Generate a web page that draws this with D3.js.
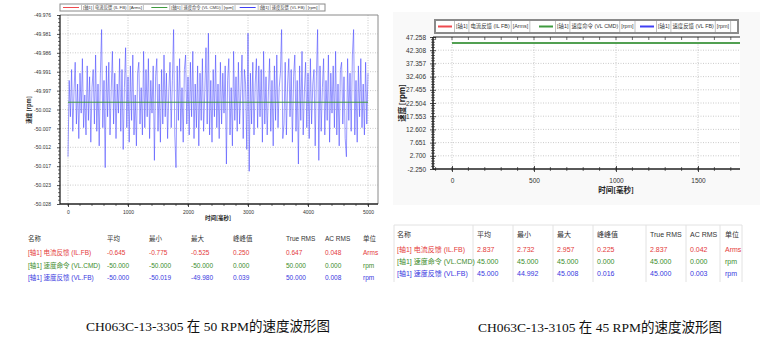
<!DOCTYPE html>
<html>
<head>
<meta charset="utf-8">
<script src="https://cdn.jsdelivr.net/npm/d3@7"></script>
<style>
  body { margin: 0; background: #fff; }
  svg { display: block; font-family: "Liberation Sans", Arial, "Noto Sans CJK SC", sans-serif; }
</style>
</head>
<body>
<svg id="chart" width="770" height="351"></svg>
<script>
// ---------- data ----------
const axisPrefix = "[轴1]";
const seriesNames = ["电流反馈 (IL FB)", "速度命令 (VL CMD)", "速度反馈 (VL FB)"];
const seriesUnits = ["Arms", "rpm", "rpm"];
const seriesColors = ["#ee4a4f", "#3f9a3f", "#4040f4"];

const tableHeaders = ["名称", "平均", "最小", "最大", "峰峰值", "True RMS", "AC RMS", "单位"];
const tableRowNames = ["[轴1] 电流反馈 (IL.FB)", "[轴1] 速度命令 (VL.CMD)", "[轴1] 速度反馈 (VL.FB)"];
const tableColors = ["#e43a3a", "#3c8c2c", "#3838e0"];

// left panel: 50 rpm
const leftYLabels = ["-50.028", "-50.023", "-50.017", "-50.012", "-50.007", "-50.002",
                     "-49.997", "-49.991", "-49.986", "-49.981", "-49.976"];
const leftYRange = [-50.028, -49.976];
const leftXTicks = [0, 1000, 2000, 3000, 4000, 5000];
const leftCmdRpm = -50.000;
const leftCmdTimes = [0, 5000];
const leftFbStepMs = 20;
// VL.FB deviation from the -50 rpm command, in 0.001 rpm
const leftFbDev = [
  -15, 6, -4, 9, -8, 3, 11, -6, 5, -10,
  8, -3, 12, -7, 2, -9, 10, -5, 7, -11,
  4, 9, -6, 13, -8, 5, -12, 8, 20, -7,
  6, -18, 10, -4, 11, -9, 3, 14, -6, 8,
  -10, 5, -3, 12, -8, 9, -13, 4, 15, -7,
  7, -11, 10, -5, 13, -9, 2, -12, 8, 11,
  -6, 4, -9, 14, -7, 9, -4, 12, -10, 6,
  -3, 10, -16, 7, 12, -8, 5, -11, 9, -6,
  13, -4, 8, -10, 3, 11, -7, 6, 20, -9,
  -18, 10, -5, 12, -8, 4, -11, 9, 13, -6,
  7, -9, 11, -4, 14, -10, 5, -7, 10, -12,
  8, -5, 12, -8, 3, 15, -6, 19, -9, 6,
  -11, 9, -4, 13, -7, 5, -10, 11, -6, 8,
  -3, 10, -17, 6, 12, -9, 4, -12, 14, -5,
  7, -8, 11, -6, 3, 13, -10, 9, 5, -13,
  19, -19, 8, -6, 11, -9, 5, 12, -7, 10,
  -4, 9, -11, 14, -6, 7, -9, 3, 12, -8,
  6, -12, 10, -5, 13, -7, 4, 8, 20, -10,
  -6, 11, -9, 5, 12, -4, 9, -11, 7, 13,
  -8, 6, -17, 10, -5, 14, -9, 3, 11, -7,
  8, -10, 12, -6, 5, 9, -12, 7, 20, -16,
  10, -8, 4, 12, -9, 6, -5, 13, -11, 8,
  -3, 10, -7, 14, -9, 5, -12, 9, 11, -6,
  7, -10, -15, 12, -5, 8, -8, 13, 20, -9,
  6, -11, 10, -4, 12, -7, 5, -9, 11, -6, 8
];
const leftStats = [
  ["-0.645", "-0.775", "-0.525", "0.250", "0.647", "0.048", "Arms"],
  ["-50.000", "-50.000", "-50.000", "0.000", "50.000", "0.000", "rpm"],
  ["-50.000", "-50.019", "-49.980", "0.039", "50.000", "0.008", "rpm"]
];
const leftCaption = "CH063C-13-3305 在 50 RPM的速度波形图";

// right panel: 45 rpm
const rightYLabels = ["-2.250", "2.700", "7.651", "12.602", "17.553", "22.504",
                      "27.455", "32.406", "37.357", "42.308", "47.258"];
const rightYRange = [-2.250, 47.258];
const rightXTicks = [0, 500, 1000, 1500];
const rightTimes = [0, 1760];
const rightFbRpm = [45.000, 45.000];
const rightCmdRpm = [45.000, 45.000];
const rightStats = [
  ["2.837", "2.732", "2.957", "0.225", "2.837", "0.042", "Arms"],
  ["45.000", "45.000", "45.000", "0.000", "45.000", "0.000", "rpm"],
  ["45.000", "44.992", "45.008", "0.016", "45.000", "0.003", "rpm"]
];
const rightCaption = "CH063C-13-3105 在 45 RPM的速度波形图";

// ---------- drawing ----------
const svg = d3.select("#chart");

function drawPanel(p) {
  const g = svg.append("g");
  const x = d3.scaleLinear().domain(p.xDomain).range(p.xRange);
  const y = d3.scaleLinear().domain(p.yRange).range([p.bottom, p.top]);
  const n = p.yLabels.length;
  const yVals = d3.range(n).map(i => p.yRange[0] + i * (p.yRange[1] - p.yRange[0]) / (n - 1));

  if (p.panelFill) {
    g.append("rect").attr("x", p.panel[0]).attr("y", p.panel[1])
      .attr("width", p.panel[2]).attr("height", p.panel[3]).attr("fill", p.panelFill);
  }
  g.append("rect").attr("x", p.left).attr("y", p.top)
    .attr("width", p.right - p.left).attr("height", p.bottom - p.top).attr("fill", "#fff");

  // dotted grid
  const grid = g.append("g").attr("stroke", "#b4b4b4").attr("stroke-width", 0.7)
    .attr("stroke-dasharray", "1,1.5");
  grid.selectAll(".gy").data(yVals.slice(1, -1)).join("line")
    .attr("x1", p.left).attr("x2", p.right).attr("y1", d => y(d)).attr("y2", d => y(d));
  grid.selectAll(".gx").data(p.xTicks).join("line")
    .attr("x1", d => x(d)).attr("x2", d => x(d)).attr("y1", p.top).attr("y2", p.bottom);

  // series
  const clipId = "clip" + p.id;
  svg.append("clipPath").attr("id", clipId).append("rect")
    .attr("x", p.left).attr("y", p.top).attr("width", p.right - p.left).attr("height", p.bottom - p.top);
  const line = d3.line().x(d => x(d.t)).y(d => y(d.v));
  const plot = g.append("g").attr("clip-path", `url(#${clipId})`);
  p.series.forEach(s => {
    plot.append("path").datum(s.data).attr("d", line).attr("fill", "none")
      .attr("stroke", s.color).attr("stroke-width", s.width).attr("stroke-opacity", s.opacity || 1);
  });

  // frame
  if (p.frame) {
    g.append("path").attr("d", `M${p.left},${p.top}H${p.right}V${p.bottom}`)
      .attr("fill", "none").attr("stroke", "#8a8a8a").attr("stroke-width", 1);
  }

  // minor ticks
  const minorY = [];
  for (let i = 0; i < n - 1; i++) {
    for (let k = 1; k < p.yMinor; k++) minorY.push(yVals[i] + k * (yVals[i + 1] - yVals[i]) / p.yMinor);
  }
  const minorX = d3.range(p.xMinorStart, p.xMinorEnd + 1, p.xMinorStep);
  const tk = g.append("g").attr("stroke", "#333").attr("stroke-width", 0.7);
  tk.selectAll(".my").data(minorY).join("line")
    .attr("x1", p.left - p.minorLen[0]).attr("x2", p.left + p.minorLen[1])
    .attr("y1", d => y(d)).attr("y2", d => y(d));
  tk.selectAll(".mx").data(minorX).join("line")
    .attr("x1", d => x(d)).attr("x2", d => x(d))
    .attr("y1", p.bottom - p.minorLen[1]).attr("y2", p.bottom + p.minorLen[0]);
  if (p.topTicks) {
    tk.selectAll(".mt").data(minorX).join("line")
      .attr("x1", d => x(d)).attr("x2", d => x(d))
      .attr("y1", p.top).attr("y2", p.top + p.minorLen[0] + 1);
  }

  // axes
  const yAxis = g.append("g").attr("transform", `translate(${p.left},0)`)
    .call(d3.axisLeft(y).tickValues(yVals).tickFormat((d, i) => p.yLabels[i])
      .tickSize(p.majorLen).tickPadding(p.yPad));
  const xAxis = g.append("g").attr("transform", `translate(0,${p.bottom})`)
    .call(d3.axisBottom(x).tickValues(p.xTicks).tickFormat(d3.format("d"))
      .tickSize(p.majorLen).tickPadding(p.xPad));
  [yAxis, xAxis].forEach(a => {
    a.select(".domain").attr("stroke", "#222").attr("stroke-width", p.axisWidth);
    a.selectAll(".tick line").attr("stroke", "#222").attr("stroke-width", 0.8);
    a.selectAll(".tick text").attr("fill", "#333").style("font-size", p.tickFont + "px")
      .style("font-family", "'Liberation Sans', Arial, sans-serif");
  });
  if (p.crossTicks) {
    yAxis.selectAll(".tick line").attr("x1", p.majorLen);
    xAxis.selectAll(".tick line").attr("y1", -p.majorLen);
  }
  xAxis.select(".domain").attr("d", `M${p.left},0H${p.right}`);
  yAxis.select(".domain").attr("d", `M0,${p.top}V${p.bottom}`);
  if (p.topTicks) {
    g.append("line").attr("x1", p.left).attr("x2", p.right).attr("y1", p.top).attr("y2", p.top)
      .attr("stroke", "#222").attr("stroke-width", 1.2);
  }

  // axis titles
  g.append("text").attr("x", p.xTitle[0]).attr("y", p.xTitle[1]).attr("text-anchor", "middle")
    .attr("font-size", p.titleFont).attr("font-weight", "bold").attr("fill", "#222")
    .attr("font-family", "'Noto Sans CJK SC', sans-serif").text("时间[毫秒]");
  g.append("text").attr("transform", `translate(${p.yTitle[0]},${p.yTitle[1]}) rotate(-90)`)
    .attr("text-anchor", "middle").attr("font-size", p.titleFont).attr("font-weight", "bold")
    .attr("fill", "#222").attr("font-family", "'Noto Sans CJK SC', sans-serif").text("速度 [rpm]");

  // legend
  const lb = p.legend;
  const lg = g.append("g");
  lg.append("rect").attr("x", lb.x).attr("y", lb.y).attr("width", lb.w).attr("height", lb.h)
    .attr("fill", "#fff").attr("stroke", "#8a8a8a").attr("stroke-width", lb.border);
  const entryW = lb.w / seriesNames.length;
  seriesNames.forEach((name, i) => {
    const ex = lb.x + i * entryW;
    const cy = lb.y + lb.h / 2;
    lg.append("line").attr("x1", ex + 3).attr("x2", ex + 3 + lb.swatch)
      .attr("y1", cy).attr("y2", cy).attr("stroke", seriesColors[i]).attr("stroke-width", lb.swatchW);
    const start = ex + 3 + lb.swatch + 4;
    const avail = ex + entryW - start - 3;
    const parts = [axisPrefix, name, "[" + seriesUnits[i] + "]"];
    const texts = parts.map(part => lg.append("text").attr("y", cy).attr("dy", "0.35em")
      .attr("font-size", lb.font).attr("fill", "#333").text(part));
    const widths = texts.map(t => t.node().getComputedTextLength());
    const gap = 3;
    const total = d3.sum(widths) + gap * (parts.length - 1);
    const k = Math.min(1, avail / total);
    let tx = start;
    texts.forEach((t, j) => {
      const w = widths[j] * k;
      t.attr("x", tx);
      if (k < 1) t.attr("textLength", w).attr("lengthAdjust", "spacingAndGlyphs");
      lg.append("line").attr("x1", tx - 1.5).attr("x2", tx - 1.5).attr("y1", lb.y + 1).attr("y2", lb.y + lb.h - 1)
        .attr("stroke", "#999").attr("stroke-width", 0.6);
      tx += w + gap;
    });
    lg.append("line").attr("x1", tx - 1.5).attr("x2", tx - 1.5).attr("y1", lb.y + 1).attr("y2", lb.y + lb.h - 1)
      .attr("stroke", "#999").attr("stroke-width", 0.6);
  });
}

function drawTable(t) {
  const g = svg.append("g");
  if (t.grid) {
    g.append("line").attr("x1", t.sep[0]).attr("x2", t.sep[t.sep.length - 1])
      .attr("y1", t.top).attr("y2", t.top).attr("stroke", "#e2e2e2");
    g.selectAll(".sep").data(t.sep).join("line")
      .attr("x1", d => d).attr("x2", d => d).attr("y1", t.top).attr("y2", t.bottom)
      .attr("stroke", "#e2e2e2").attr("stroke-width", 1);
  }
  tableHeaders.forEach((h, j) => {
    g.append("text").attr("x", t.cols[j]).attr("y", t.rows[0]).attr("dy", "0.35em")
      .attr("font-size", t.font).attr("fill", "#333").text(h);
  });
  tableRowNames.forEach((name, i) => {
    const cells = [name].concat(t.stats[i]);
    cells.forEach((c, j) => {
      g.append("text").attr("x", t.cols[j]).attr("y", t.rows[i + 1]).attr("dy", "0.35em")
        .attr("font-size", t.font).attr("fill", tableColors[i]).text(c);
    });
  });
  g.append("text").attr("x", t.caption[0]).attr("y", t.caption[1]).attr("text-anchor", "middle")
    .attr("font-size", 13.5).attr("fill", "#111")
    .attr("font-family", "'Liberation Serif', 'Times New Roman', 'Noto Sans CJK SC', serif")
    .text(t.captionText);
}

// left panel
drawPanel({
  id: "L", left: 60, right: 378, top: 15, bottom: 204,
  xDomain: [0, 5000], xRange: [68, 368], xTicks: leftXTicks,
  yRange: leftYRange, yLabels: leftYLabels, yMinor: 5,
  xMinorStart: 0, xMinorEnd: 5000, xMinorStep: 200,
  minorLen: [2, 0], majorLen: 3, yPad: 6, xPad: 3, axisWidth: 1.3,
  tickFont: 5, titleFont: 5.5, xTitle: [218, 220], yTitle: [31, 110],
  frame: true, crossTicks: false, topTicks: false,
  series: [
    { color: "#4242ff", width: 0.9, opacity: 0.6,
      data: leftFbDev.map((v, i) => ({ t: i * leftFbStepMs, v: leftCmdRpm + v / 1000 })) },
    { color: seriesColors[1], width: 1,
      data: leftCmdTimes.map(t => ({ t: t, v: leftCmdRpm })) }
  ],
  legend: { x: 60, y: 4, w: 265, h: 7, font: 4.3, swatch: 16, swatchW: 1, border: 1 }
});

drawTable({
  cols: [28, 107, 149, 191, 233, 286, 325, 363], rows: [239, 253, 266, 278],
  font: 6.5, stats: leftStats, grid: false,
  caption: [208, 331], captionText: leftCaption
});

// right panel
drawPanel({
  id: "R", left: 433, right: 740, top: 37, bottom: 169,
  panel: [393, 12, 367, 193], panelFill: "#f9f9f9",
  xDomain: [0, 1500], xRange: [452, 698], xTicks: rightXTicks,
  yRange: rightYRange, yLabels: rightYLabels, yMinor: 5,
  xMinorStart: -100, xMinorEnd: 1700, xMinorStep: 100,
  minorLen: [2, 2], majorLen: 3, yPad: 4, xPad: 6, axisWidth: 1.6,
  tickFont: 6.5, titleFont: 7.5, xTitle: [616, 193], yTitle: [405, 103],
  frame: false, crossTicks: true, topTicks: true,
  series: [
    { color: seriesColors[2], width: 2,
      data: rightTimes.map((t, i) => ({ t: t, v: rightFbRpm[i] })) },
    { color: "#52a052", width: 2,
      data: rightTimes.map((t, i) => ({ t: t, v: rightCmdRpm[i] })) }
  ],
  legend: { x: 435, y: 20, w: 303, h: 13, font: 5.4, swatch: 14, swatchW: 2, border: 2 }
});

drawTable({
  cols: [397, 477, 517, 557, 597, 650, 690, 725], rows: [235, 250, 262, 274],
  sep: [394, 473, 513, 553, 593, 646, 686, 720, 742], top: 225, bottom: 282,
  font: 7, stats: rightStats, grid: true,
  caption: [600, 332], captionText: rightCaption
});
</script>
</body>
</html>
